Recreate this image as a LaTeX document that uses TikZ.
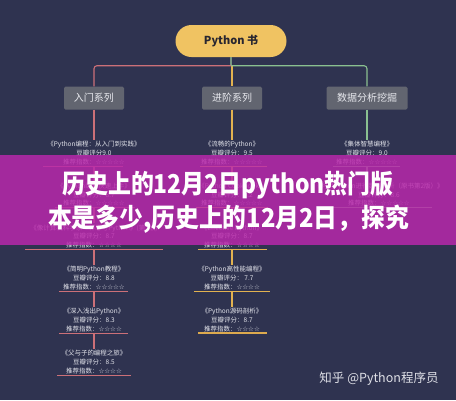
\documentclass[tikz,border=0pt]{standalone}
\usepackage{fontspec}
\usepackage{graphicx}
\setmainfont{Noto Sans CJK SC}
\newfontfamily\symf{DejaVu Sans}
\usetikzlibrary{calc}
\definecolor{bg}{RGB}{47,51,80}
\definecolor{rootc}{RGB}{240,195,98}
\definecolor{roott}{RGB}{40,38,48}
\definecolor{boxc}{RGB}{98,101,112}
\definecolor{boxt}{RGB}{232,233,238}
\definecolor{redl}{RGB}{204,112,120}
\definecolor{yell}{RGB}{226,178,80}
\definecolor{grnl}{RGB}{138,192,144}
\definecolor{stub}{RGB}{120,150,130}
\definecolor{leaft}{RGB}{228,229,236}
\definecolor{bann}{RGB}{186,40,172}
\definecolor{wmt}{RGB}{222,223,230}
\tikzset{
  rootn/.style={fill=rootc, text=roott, rounded corners=16pt, minimum width=111pt, minimum height=32pt, inner sep=0pt, font=\fontsize{11}{13}\selectfont\bfseries},
  lvl/.style={fill=boxc, text=boxt, rounded corners=1.5pt, minimum height=23pt, inner sep=0pt, font=\fontsize{10}{12}\selectfont},
  leaf/.style={text=leaft, font=\fontsize{6.5}{8.8}\selectfont, align=center, inner xsep=0pt, inner ysep=1.2pt},
  conn/.style={line width=1.1pt, rounded corners=3pt},
  uline/.style={line width=0.9pt},
  banner/.style={fill=bann, fill opacity=0.84, minimum width=456pt, minimum height=90pt, inner sep=0pt},
  btext/.style={text=white, font=\fontsize{26}{30}\selectfont\bfseries, inner sep=0pt},
  wm/.style={text=wmt, font=\fontsize{12.5}{14}\selectfont, inner sep=0pt}
}
\begin{document}
\begin{tikzpicture}[x=1pt,y=-1pt]
\fill[bg] (0,0) rectangle (456,400);
\useasboundingbox (0,0) rectangle (456,400);

% root and level 1
\node[rootn] (root) at (231,41) {Python 书};
\node[lvl, minimum width=60pt] (intro) at (94,98) {入门系列};
\node[lvl, minimum width=60pt] (adv) at (232,98) {进阶系列};
\node[lvl, minimum width=81pt] (data) at (367,98) {数据分析挖掘};
\coordinate (hub) at (231,65.7);

% leaves: left column
\node[leaf] (l1) at (94,152.8) {《Python编程：从入门到实践》\\豆瓣评分9.0\\推荐指数：{\symf ☆☆☆☆☆}};
\node[leaf] (l2) at (94,194.6) {《Python编程快速上手》\\豆瓣评分：8.7\\推荐指数：{\symf ☆☆☆☆☆}};
\node[leaf] (l3) at (94,236.4) {《像计算机科学家一样思考Python》(第2版)\\豆瓣评分：8.7\\推荐指数：{\symf ☆☆☆☆}};
\node[leaf] (l4) at (94,278.2) {《简明Python教程》\\豆瓣评分：8.8\\推荐指数：{\symf ☆☆☆☆☆}};
\node[leaf] (l5) at (94,320) {《深入浅出Python》\\豆瓣评分：8.3\\推荐指数：{\symf ☆☆☆☆}};
\node[leaf] (l6) at (94,361.8) {《父与子的编程之旅》\\豆瓣评分：8.5\\推荐指数：{\symf ☆☆☆☆}};
% middle column
\node[leaf] (m1) at (232,152.8) {《流畅的Python》\\豆瓣评分：9.5\\推荐指数：{\symf ☆☆☆☆☆}};
\node[leaf] (m2) at (232,194.6) {《Python Cookbook》\\豆瓣评分：9.2\\推荐指数：{\symf ☆☆☆☆☆}};
\node[leaf] (m3) at (232,236.4) {《Effective Python》\\豆瓣评分：8.7\\推荐指数：{\symf ☆☆☆☆}};
\node[leaf] (m4) at (232,278.2) {《Python高性能编程》\\豆瓣评分： 7.7\\推荐指数：{\symf ☆☆☆☆}};
\node[leaf] (m5) at (232,320) {《Python源码剖析》\\豆瓣评分：8.7\\推荐指数：{\symf ☆☆☆☆}};
% right column
\node[leaf] (r1) at (367,152.8) {《集体智慧编程》\\豆瓣评分：9.0\\推荐指数：{\symf ☆☆☆☆☆}};
\node[leaf] (r2) at (379,194.6) {《利用Python进行数据分析（原书第2版）》\\豆瓣评分：8.6\\推荐指数：{\symf ☆☆☆☆☆}};

% connectors root -> level 1
\draw[conn, stub] (root.south) -- (hub);
\draw[conn, redl] (hub) -| (intro.north);
\draw[conn, yell] (adv.north |- hub) -- (adv.north);
\draw[conn, grnl] (hub) -| (data.north);

% column connectors
\draw[conn, redl] (intro.south) -- (l1.north);
\draw[conn, redl] (l1.south) -- (l2.north);
\draw[conn, redl] (l2.south) -- (l3.north);
\draw[conn, redl] (l3.south) -- (l4.north);
\draw[conn, redl] (l4.south) -- (l5.north);
\draw[conn, redl] (l5.south) -- (l6.north);
\draw[conn, yell] (adv.south) -- (m1.north);
\draw[conn, yell] (m1.south) -- (m2.north);
\draw[conn, yell] (m2.south) -- (m3.north);
\draw[conn, yell] (m3.south) -- (m4.north);
\draw[conn, yell] (m4.south) -- (m5.north);
\draw[conn, grnl] (data.south) -- (r1.north);
\draw[conn, grnl] (r1.south) -- (r2.north -| r1.south);

% underlines
\draw[uline, redl] (43,0 |- l1.south) -- (123,0 |- l1.south);
\draw[uline, redl] (55,0 |- l2.south) -- (135,0 |- l2.south);
\draw[uline, redl] (25,0 |- l3.south) -- (163,0 |- l3.south);
\draw[uline, redl] (59,0 |- l4.south) -- (128,0 |- l4.south);
\draw[uline, redl] (59,0 |- l5.south) -- (128,0 |- l5.south);
\draw[uline, redl] (57,0 |- l6.south) -- (131,0 |- l6.south);
\draw[uline, yell] (200,0 |- m1.south) -- (267,0 |- m1.south);
\draw[uline, yell] (196,0 |- m2.south) -- (268,0 |- m2.south);
\draw[uline, yell] (198,0 |- m3.south) -- (267,0 |- m3.south);
\draw[uline, yell] (194,0 |- m4.south) -- (270,0 |- m4.south);
\draw[line width=1.8pt, yell!85!brown] (198,0 |- m5.south) -- (267,0 |- m5.south);
\draw[uline, grnl] (333,0 |- r1.south) -- (400,0 |- r1.south);
\draw[uline, grnl] (333,0 |- r2.south) -- (432,0 |- r2.south);

% banner overlay
\node[banner] (banner) at (228,200) {};
\node[btext] (t1) at (228,185) {\resizebox{331pt}{\height}{历史上的12月2日python热门版}};
\node[btext] (t2) at (228.5,219) {\resizebox{361pt}{\height}{本是多少,历史上的12月2日，探究}};

% watermark
\node[wm] (wm) at (379,379) {知乎 @Python程序员};
\end{tikzpicture}
\end{document}
